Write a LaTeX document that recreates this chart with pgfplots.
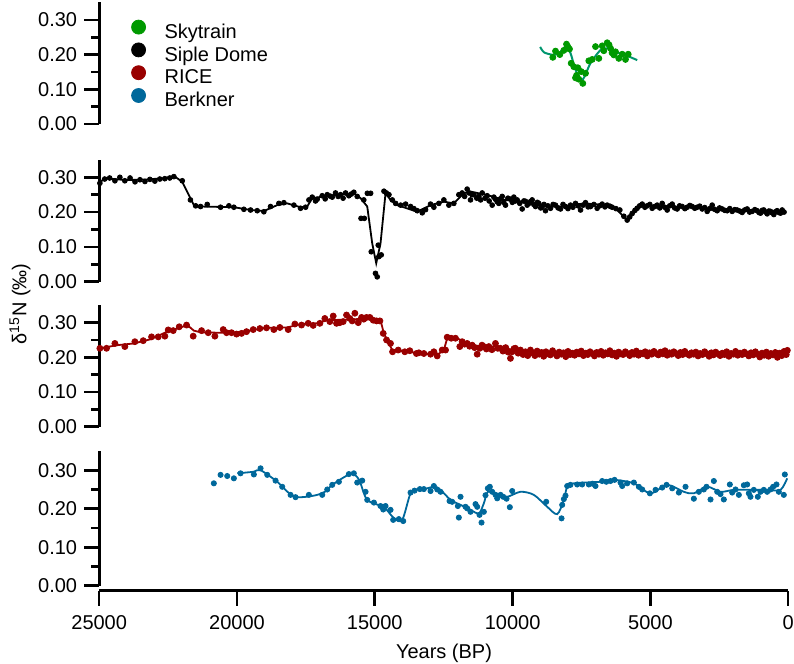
\documentclass[border=0pt]{standalone}
\usepackage{pgfplots}
\pgfplotsset{compat=1.18}
\usepackage{fontspec}
\setmainfont{Liberation Sans}
\definecolor{skyg}{RGB}{0,153,0}
\definecolor{skyline}{RGB}{0,150,110}
\definecolor{ricered}{RGB}{153,0,0}
\definecolor{berkblue}{RGB}{0,104,155}
\pgfplotsset{
  panel/.style={
    width=344.5pt, scale only axis, xmin=0, xmax=25000, x dir=reverse,
    ymin=0, ymax=0.35, clip=false,
    axis y line=left,
    ytick={0,0.1,0.2,0.3}, minor ytick={0.05,0.15,0.25},
    tick align=outside, major tick length=7.5pt, minor tick length=4pt,
    tick style={black, line width=1.3pt},
    minor tick style={black, line width=1.3pt},
    axis line style={-, black, line width=1.4pt},
    yticklabel style={/pgf/number format/.cd, fixed, fixed zerofill, precision=2},
    /pgf/number format/assume math mode=true,
    tick label style={font=\fontsize{10}{12}\selectfont, black},
  },
  toppanel/.style={panel, axis x line=none, xtick=\empty},
}
\begin{document}
\begin{tikzpicture}
\path[use as bounding box] (0,0) rectangle (397pt,332pt);

% ---------------- Skytrain ----------------
\begin{axis}[toppanel, height=60.75pt, at={(49.6pt,270pt)}, anchor=south west,
  legend style={draw=none, fill=none, at={(axis cs:25000,0.35)}, anchor=north west,
    xshift=13pt, yshift=-6.6pt, font=\fontsize{10}{12}\selectfont,
    nodes={text height=7pt, text depth=3pt, inner sep=0pt}, row sep=-0.7pt, column sep=9.5pt},
  legend cell align=left,
  legend image post style={yshift=3.6pt}]
\addlegendimage{only marks, mark=*, mark size=3.5pt, color=skyg}
\addlegendentry{Skytrain}
\addlegendimage{only marks, mark=*, mark size=3.5pt, color=black}
\addlegendentry{Siple Dome}
\addlegendimage{only marks, mark=*, mark size=3.5pt, color=ricered}
\addlegendentry{RICE}
\addlegendimage{only marks, mark=*, mark size=3.5pt, color=berkblue}
\addlegendentry{Berkner}
\addplot[forget plot, only marks, mark=*, mark size=1.5pt, color=skyg] coordinates {
(8540,0.192)(8442,0.210)(8286,0.200)(8141,0.212)(8043,0.230)(7990,0.222)(7935,0.216)
(7873,0.175)(7778,0.165)(7680,0.140)(7633,0.162)(7510,0.151)(7717,0.133)(7597,0.129)
(7452,0.117)(7354,0.146)(7234,0.182)(7111,0.186)(6991,0.223)(6871,0.189)(6748,0.225)
(6690,0.211)(6567,0.234)(6500,0.228)(6447,0.218)(6390,0.205)(6327,0.199)(6266,0.208)
(6146,0.189)(6023,0.201)(5903,0.186)(5805,0.201)};
\addplot[forget plot, smooth, line width=1pt, color=skyline] coordinates {
(9000,0.222)(8850,0.206)(8504,0.199)(8300,0.205)(8080,0.222)(7898,0.204)(7717,0.156)
(7474,0.127)(7173,0.175)(6810,0.213)(6568,0.218)(6300,0.208)(6084,0.203)(5800,0.195)(5478,0.184)};
\end{axis}

% ---------------- Siple Dome ----------------
\begin{axis}[toppanel, height=60.9pt, at={(49.6pt,191.15pt)}, anchor=south west]
\addplot[only marks, mark=*, mark size=1.2pt, color=black] coordinates {
(24975,0.283)(24800,0.295)(24620,0.298)(24430,0.290)(24250,0.300)(24070,0.290)(23880,0.298)
(23700,0.287)(23520,0.293)(23340,0.288)(23160,0.294)(22980,0.289)(22800,0.295)(22620,0.296)
(22440,0.298)(22290,0.302)(21986,0.290)(21690,0.235)(21500,0.218)(21322,0.216)(21080,0.222)
(20596,0.214)(20294,0.218)(20113,0.214)(19750,0.208)(19508,0.206)(19266,0.204)(19025,0.201)
(18783,0.216)(18480,0.225)(18298,0.227)(17935,0.220)(17694,0.211)(17510,0.214)(17390,0.235)
(17270,0.243)(17150,0.232)(17089,0.237)(16907,0.247)(16800,0.238)(16725,0.250)(16620,0.246)
(16544,0.243)(16425,0.255)(16330,0.245)(16242,0.250)(16150,0.240)(16060,0.255)(15941,0.247)
(15850,0.252)(15760,0.257)(15637,0.245)(15500,0.182)(15380,0.182)(15400,0.235)(15270,0.254)
(15150,0.254)(15129,0.086)(14975,0.024)(14912,0.014)(14875,0.105)(14853,0.072)(14766,0.077)
(14667,0.260)(14580,0.255)(14486,0.250)(14365,0.235)(14244,0.225)(14063,0.220)(13882,0.223)
(13700,0.216)(13580,0.210)(13460,0.204)(13278,0.198)(13157,0.207)(12977,0.223)(12856,0.214)
(12675,0.225)(12494,0.235)(12312,0.220)(12131,0.225)(11950,0.250)(11830,0.255)(11740,0.245)
(11648,0.266)(11580,0.255)(11527,0.235)(11470,0.250)(11405,0.250)(11300,0.240)(11224,0.245)
(11160,0.235)(11103,0.255)(11000,0.240)(10921,0.247)(10850,0.232)(10740,0.220)(10680,0.243)
(10620,0.237)(10560,0.230)(10500,0.225)(10440,0.238)(10377,0.245)(10320,0.228)(10257,0.220)
(10170,0.240)(10075,0.237)(10010,0.228)(9955,0.243)(9900,0.232)(9834,0.235)(9740,0.225)
(9652,0.209)(9590,0.232)(9531,0.231)(9470,0.220)(9410,0.225)(9350,0.230)(9290,0.235)
(9230,0.222)(9168,0.216)(9100,0.228)(9048,0.225)(8980,0.212)(8927,0.216)(8860,0.222)
(8806,0.204)(8720,0.218)(8624,0.211)(8530,0.222)(8443,0.220)(8350,0.212)(8262,0.209)
(8170,0.222)(8080,0.216)(7990,0.210)(7898,0.220)(7810,0.214)(7717,0.225)(7620,0.218)
(7535,0.206)(7440,0.220)(7354,0.227)(7260,0.215)(7173,0.216)(7050,0.222)(6931,0.211)
(6840,0.218)(6750,0.223)(6650,0.215)(6568,0.220)(6470,0.217)(6387,0.214)(6250,0.210)
(6108,0.206)(5963,0.188)(5842,0.177)(5750,0.186)(5661,0.196)(5560,0.205)(5480,0.211)
(5390,0.218)(5297,0.223)(5200,0.214)(5116,0.218)(5020,0.222)(4935,0.211)(4840,0.216)
(4753,0.220)(4660,0.212)(4572,0.225)(4480,0.214)(4390,0.206)(4300,0.218)(4209,0.223)
(4120,0.212)(4028,0.209)(3940,0.218)(3846,0.216)(3750,0.210)(3665,0.214)(3570,0.219)
(3483,0.216)(3390,0.211)(3302,0.214)(3210,0.217)(3121,0.209)(3030,0.213)(2939,0.202)
(2850,0.210)(2758,0.220)(2670,0.208)(2577,0.204)(2490,0.212)(2395,0.209)(2300,0.205)
(2214,0.204)(2120,0.210)(2033,0.202)(1940,0.207)(1851,0.206)(1760,0.203)(1670,0.199)
(1580,0.206)(1488,0.209)(1400,0.200)(1307,0.202)(1210,0.207)(1126,0.204)(1060,0.199)
(1005,0.197)(940,0.205)(884,0.206)(820,0.200)(763,0.195)(700,0.203)(642,0.202)
(580,0.198)(521,0.193)(460,0.201)(400,0.204)(340,0.199)(279,0.197)(218,0.206)(150,0.200)};
\addplot[line width=0.9pt, color=black] coordinates {
(24975,0.283)(24830,0.297)(24000,0.292)(23200,0.294)(22600,0.298)(22290,0.304)(21986,0.287)
(21565,0.220)(21322,0.216)(20700,0.215)(20113,0.214)(19500,0.206)(19025,0.203)(18540,0.220)
(18177,0.225)(17694,0.214)(17452,0.216)(17270,0.240)(16486,0.249)(15760,0.254)(15517,0.240)
(15274,0.216)(15093,0.110)(14948,0.053)(14792,0.110)(14610,0.254)(14429,0.235)(14186,0.220)
(13460,0.201)(12977,0.220)(12494,0.230)(12132,0.225)(11769,0.254)(11527,0.259)(10920,0.249)
(10318,0.235)(9593,0.230)(8867,0.216)(8142,0.216)(7416,0.225)(6567,0.220)(6204,0.206)
(5866,0.179)(5359,0.220)(4513,0.216)(3302,0.214)(2699,0.206)(2093,0.204)(1368,0.206)
(885,0.201)(218,0.201)};
\end{axis}

% ---------------- RICE ----------------
\begin{axis}[toppanel, height=60.7pt, at={(49.6pt,118.65pt)}, anchor=south west]
\addplot[only marks, mark=*, mark size=1.5pt, color=ricered] coordinates {
(24975,0.226)(24733,0.226)(24430,0.240)(24068,0.231)(23705,0.245)(23403,0.248)(23100,0.259)
(22858,0.259)(22617,0.261)(22496,0.279)(22314,0.277)(22096,0.288)(21830,0.293)(21589,0.261)
(21286,0.277)(21044,0.271)(20802,0.261)(20500,0.280)(20380,0.271)(20198,0.271)(20017,0.267)
(19835,0.269)(19654,0.274)(19412,0.280)(19170,0.283)(18928,0.285)(18662,0.280)(18444,0.286)
(18142,0.280)(17900,0.296)(17658,0.293)(17417,0.298)(17235,0.292)(16993,0.298)(16812,0.312)
(16630,0.303)(16509,0.319)(16388,0.298)(16267,0.300)(16146,0.303)(16025,0.322)(15904,0.312)
(15820,0.305)(15723,0.327)(15600,0.300)(15480,0.315)(15400,0.310)(15300,0.315)(15178,0.315)
(15057,0.307)(14936,0.305)(14815,0.305)(14694,0.269)(14573,0.250)(14430,0.240)(14355,0.216)
(14150,0.221)(13910,0.216)(13730,0.219)(13490,0.211)(13400,0.213)(13219,0.211)(12977,0.209)
(12856,0.216)(12736,0.204)(12554,0.221)(12433,0.221)(12373,0.258)(12228,0.255)(12071,0.255)
(11914,0.231)(11830,0.245)(11740,0.238)(11648,0.240)(11560,0.232)(11467,0.235)(11380,0.228)
(11285,0.209)(11189,0.226)(11110,0.235)(11044,0.231)(10950,0.224)(10863,0.231)(10750,0.222)
(10621,0.240)(10540,0.226)(10440,0.226)(10350,0.218)(10250,0.228)(10160,0.215)(10077,0.197)
(10017,0.216)(9950,0.225)(9896,0.226)(9800,0.212)(9714,0.221)(9620,0.208)(9533,0.216)
(9450,0.205)(9352,0.221)
(9270,0.212)(9190,0.205)(9110,0.218)(9030,0.209)(8950,0.214)(8870,0.203)(8790,0.216)
(8710,0.210)(8630,0.207)(8550,0.219)(8470,0.211)(8390,0.204)(8310,0.215)(8230,0.209)
(8150,0.213)(8070,0.202)(7990,0.217)(7910,0.208)(7830,0.212)(7750,0.206)(7670,0.215)
(7590,0.210)(7510,0.218)(7430,0.205)(7350,0.212)(7270,0.208)(7190,0.216)(7110,0.211)
(7030,0.204)(6950,0.214)(6870,0.209)(6790,0.217)(6710,0.206)(6630,0.213)(6550,0.210)
(6470,0.219)(6390,0.207)(6310,0.212)(6230,0.203)(6150,0.215)(6070,0.210)(5990,0.208)
(5910,0.216)(5830,0.211)(5750,0.205)(5670,0.214)(5590,0.209)(5510,0.218)(5430,0.206)
(5350,0.212)(5270,0.210)(5190,0.216)(5110,0.204)(5030,0.213)(4950,0.209)(4870,0.217)
(4790,0.211)(4710,0.207)(4630,0.215)(4550,0.210)(4470,0.219)(4390,0.206)(4310,0.213)
(4230,0.209)(4150,0.216)(4070,0.211)(3990,0.205)(3910,0.214)(3830,0.208)(3750,0.217)
(3670,0.210)(3590,0.206)(3510,0.213)(3430,0.209)(3350,0.215)(3270,0.204)(3190,0.211)
(3110,0.208)(3030,0.216)(2950,0.210)(2870,0.203)(2790,0.213)(2710,0.207)(2630,0.215)
(2550,0.210)(2470,0.205)(2390,0.212)(2310,0.208)(2230,0.216)(2150,0.203)(2070,0.211)
(1990,0.209)(1910,0.217)(1830,0.206)(1750,0.212)(1670,0.208)(1590,0.215)(1510,0.210)
(1430,0.204)(1350,0.213)(1270,0.207)(1190,0.216)(1110,0.209)(1030,0.201)(950,0.212)
(870,0.206)(790,0.215)(710,0.203)(630,0.211)(550,0.207)(470,0.214)(390,0.200)
(310,0.212)(230,0.205)(150,0.217)(70,0.208)(30,0.220)};
\addplot[line width=0.9pt, color=ricered] coordinates {
(24975,0.226)(24344,0.235)(23741,0.240)(23136,0.252)(22531,0.274)(22048,0.286)(21805,0.293)
(21565,0.277)(21322,0.272)(20716,0.271)(20113,0.271)(19387,0.279)(18902,0.285)(18177,0.286)
(17694,0.296)(17089,0.298)(16725,0.307)(15880,0.309)(15274,0.312)(14792,0.307)(14671,0.269)
(14369,0.221)(13823,0.216)(13220,0.211)(12735,0.207)(12494,0.221)(12372,0.255)(12010,0.255)
(11646,0.240)(11163,0.231)(10558,0.231)(9955,0.221)(8744,0.211)(7000,0.212)(5000,0.211)
(3000,0.212)(1000,0.211)(100,0.211)};
\end{axis}

% ---------------- Berkner ----------------
\begin{axis}[panel, height=67.35pt, at={(49.6pt,39.15pt)}, anchor=south west,
  axis x line=bottom, axis x line shift=2.5pt,
  x axis line style={-}, every outer x axis line/.append style={-},
  xtick align=outside,
  xtick={0,5000,10000,15000,20000,25000}, scaled x ticks=false,
  xticklabel style={/pgf/number format/1000 sep={}, yshift=-1.5pt}]
\addplot[only marks, mark=*, mark size=1.3pt, color=berkblue] coordinates {
(20840,0.266)(20596,0.288)(20354,0.285)(20113,0.279)(19871,0.292)(19387,0.289)(19145,0.305)
(18902,0.288)(18601,0.273)(18359,0.257)(18056,0.236)(17875,0.230)(17392,0.236)(16907,0.236)
(16725,0.250)(16544,0.262)(16303,0.270)(15941,0.290)(15760,0.292)(15637,0.268)(15456,0.273)
(15335,0.244)(15274,0.223)(15032,0.216)(14792,0.207)(14694,0.198)(14610,0.207)(14429,0.197)
(14332,0.171)(14127,0.173)(13968,0.168)(13703,0.242)(13558,0.247)(13365,0.251)(13220,0.251)
(12977,0.246)(12857,0.259)(12735,0.250)(12614,0.244)(12288,0.220)(12192,0.218)(11950,0.177)
(11889,0.231)(11986,0.207)(11708,0.205)(11646,0.201)(11527,0.192)(11345,0.212)(11284,0.205)
(11200,0.184)(11127,0.164)(11043,0.192)(10983,0.235)(10898,0.253)(10826,0.257)(10740,0.244)
(10619,0.236)(10558,0.227)(10437,0.236)(10340,0.231)(10219,0.226)(10100,0.204)(10014,0.246)
(8780,0.218)(8224,0.175)(8200,0.210)(8140,0.225)(8080,0.234)(8018,0.259)(7900,0.262)
(7657,0.263)(7476,0.263)(7234,0.263)(7100,0.265)(6992,0.259)(6750,0.272)(6600,0.270)
(6447,0.272)(6300,0.275)(6084,0.268)(6023,0.259)(5842,0.266)(5600,0.268)(5418,0.257)
(5297,0.250)(5019,0.240)(4813,0.249)(4571,0.255)(4414,0.262)(4208,0.253)(3967,0.242)
(3725,0.257)(3423,0.226)(3242,0.244)(3060,0.250)(2963,0.257)(2818,0.224)(2698,0.272)
(2576,0.244)(2456,0.238)(2335,0.224)(2117,0.263)(2032,0.242)(1911,0.250)(1790,0.236)
(1609,0.261)(1488,0.263)(1428,0.240)(1368,0.231)(1247,0.249)(1102,0.231)(1005,0.244)
(884,0.249)(763,0.244)(642,0.250)(546,0.257)(425,0.263)(340,0.244)(159,0.236)(122,0.289)};
\addplot[smooth, line width=0.9pt, color=berkblue] coordinates {
(19990,0.292)(19400,0.296)(19145,0.300)(18540,0.270)(17935,0.232)(17210,0.234)(16785,0.245)
(16544,0.262)(15880,0.290)(15577,0.276)(15274,0.223)(14671,0.204)(14310,0.176)(14005,0.171)
(13703,0.240)(13461,0.250)(13097,0.253)(12857,0.257)(12614,0.249)(12252,0.223)(11889,0.210)
(11527,0.197)(11224,0.188)(11043,0.214)(10898,0.244)(10558,0.236)(10195,0.231)(9712,0.244)
(9230,0.236)(8744,0.205)(8381,0.186)(8142,0.223)(8018,0.257)(7778,0.266)(6810,0.270)
(6327,0.275)(5602,0.266)(4996,0.240)(4390,0.262)(3788,0.244)(3425,0.240)(2939,0.257)
(2456,0.244)(1974,0.249)(1368,0.249)(762,0.249)(279,0.249)(36,0.279)};
\end{axis}

\node[rotate=90, font=\fontsize{10}{12}\selectfont] at (10pt,180pt) {δ\textsuperscript{15}N (‰)};
\node[font=\fontsize{10}{12}\selectfont] at (222pt,5.5pt) {Years (BP)};
\end{tikzpicture}
\end{document}
